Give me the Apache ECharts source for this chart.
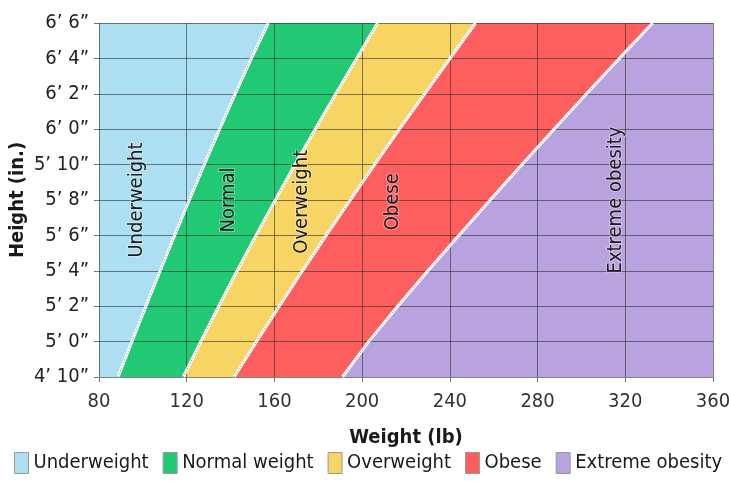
<!DOCTYPE html>
<html><head><meta charset="utf-8">
<script src="https://cdn.jsdelivr.net/npm/echarts@6/dist/echarts.min.js"></script>
<style>html,body{margin:0;padding:0;background:#fff}#c{width:729px;height:481px}</style>
</head><body><div id="c"></div>
<script>
const heights = [58, 60, 62, 64, 66, 68, 70, 72, 74, 76, 78];
const heightLabels = ["4’ 10”", "5’ 0”", "5’ 2”", "5’ 4”", "5’ 6”", "5’ 8”", "5’ 10”", "6’ 0”", "6’ 2”", "6’ 4”", "6’ 6”"];
const weightTicks = [80, 120, 160, 200, 240, 280, 320, 360];
const categories = ["Underweight", "Normal weight", "Overweight", "Obese", "Extreme obesity"];
const areaLabels = ["Underweight", "Normal", "Overweight", "Obese", "Extreme obesity"];
// boundary weights (lb) at each height in heights[]
const underNormal = [88.7, 95.0, 101.4, 107.9, 114.5, 121.2, 128.0, 135.0, 142.1, 149.5, 157.2];
const normalOver = [118.4, 126.4, 134.6, 143.0, 151.6, 160.4, 169.4, 178.6, 188.0, 197.5, 207.0];
const overObese = [141.6, 151.8, 162.2, 172.8, 183.6, 194.6, 205.7, 217.0, 228.5, 240.1, 251.7];
const obeseExtreme = [191.0, 203.0, 216.2, 230.0, 244.1, 258.4, 272.9, 287.5, 302.3, 317.3, 332.5];

const colors = ['#abdff1', '#22c975', '#f6d564', '#fd5f5f', '#b9a3de'];
const FONT = '"Liberation Sans Narrow", "DejaVu Sans Condensed", sans-serif';
const xMin = weightTicks[0], xMax = weightTicks[weightTicks.length - 1];
const boundaries = [underNormal, normalOver, overObese, obeseExtreme];
const leftEdge = heights.map(() => xMin);
const rightEdge = heights.map(() => xMax);
const bandLeft = [leftEdge].concat(boundaries);
const bandRight = boundaries.concat([rightEdge]);
// label anchor points in data units [weight, height]
const labelAnchors = [[97.3, 68.0], [139.4, 68.0], [172.7, 67.9], [214.2, 67.9], [315.6, 68.0]];

const chart = echarts.init(document.getElementById('c'));
const series = [];
categories.forEach((name, k) => {
  series.push({
    name: name, type: 'custom', z: -1, silent: true,
    itemStyle: { color: colors[k], borderColor: '#9a9a9a', borderWidth: 1 },
    data: [[0]],
    renderItem: function (params, api) {
      const pts = [];
      heights.forEach((h, i) => pts.push(api.coord([bandLeft[k][i], h])));
      for (let i = heights.length - 1; i >= 0; i--) pts.push(api.coord([bandRight[k][i], heights[i]]));
      return { type: 'polygon', shape: { points: pts }, style: { fill: colors[k] } };
    }
  });
});
series.push({
  name: 'labels', type: 'custom', z: 5, silent: true, data: [[0]],
  renderItem: function (params, api) {
    return {
      type: 'group',
      children: areaLabels.map((t, k) => {
        const p = api.coord(labelAnchors[k]);
        return {
          type: 'text', x: p[0], y: p[1], rotation: Math.PI / 2,
          style: { text: t, fill: '#1a1a1a', font: '20px ' + FONT, align: 'center', verticalAlign: 'middle',
            stroke: 'rgba(255,255,255,0.35)', lineWidth: 2 }
        };
      })
    };
  }
});
boundaries.forEach((b) => {
  const d = heights.map((h, i) => [b[i], h]);
  series.push({ type: 'line', z: 3, silent: true, symbol: 'none', data: d,
    lineStyle: { color: '#ffffff', width: 3 } });
  series.push({ type: 'line', z: 4, silent: true, symbol: 'none', data: d,
    lineStyle: { color: '#8a8a8a', width: 1, type: [1, 2] } });
});

chart.setOption({
  animation: false,
  grid: { left: 99, right: 16, top: 23, bottom: 104, containLabel: false, outerBoundsMode: 'none' },
  xAxis: {
    type: 'value', min: xMin, max: xMax, interval: 40,
    name: 'Weight (lb)', nameLocation: 'middle', nameGap: 51,
    nameTextStyle: { fontFamily: FONT, fontWeight: 'bold', fontSize: 20, color: '#1a1a1a' },
    axisLine: { show: false },
    axisTick: { show: true, length: 5, lineStyle: { color: '#777' } },
    axisLabel: { margin: 15, fontFamily: FONT, fontSize: 20, color: '#333',
      formatter: v => (weightTicks.indexOf(v) >= 0 ? String(v) : '') },
    splitLine: { show: true, lineStyle: { color: 'rgba(45,45,45,0.6)', width: 1 } }
  },
  yAxis: {
    type: 'value', min: heights[0], max: heights[heights.length - 1], interval: 2,
    name: 'Height (in.)', nameLocation: 'middle', nameGap: 71, nameMoveOverlap: false,
    nameTextStyle: { fontFamily: FONT, fontWeight: 'bold', fontSize: 20, color: '#1a1a1a' },
    axisLine: { show: false },
    axisTick: { show: true, length: 5, lineStyle: { color: '#777' } },
    axisLabel: { margin: 10, fontFamily: FONT, fontSize: 20, color: '#222',
      formatter: v => { const i = heights.indexOf(v); return i >= 0 ? heightLabels[i] : ''; } },
    splitLine: { show: true, lineStyle: { color: 'rgba(45,45,45,0.6)', width: 1 } }
  },
  legend: {
    data: categories.map((n, k) => ({ name: n, icon: 'rect', itemStyle: { color: colors[k], borderColor: '#9a9a9a', borderWidth: 1 } })),
    left: 9, bottom: 2, itemWidth: 14, itemHeight: 21, itemGap: 14,
    textStyle: { fontFamily: FONT, fontSize: 20, color: '#1a1a1a' }
  },
  series: series
});
</script></body></html>
